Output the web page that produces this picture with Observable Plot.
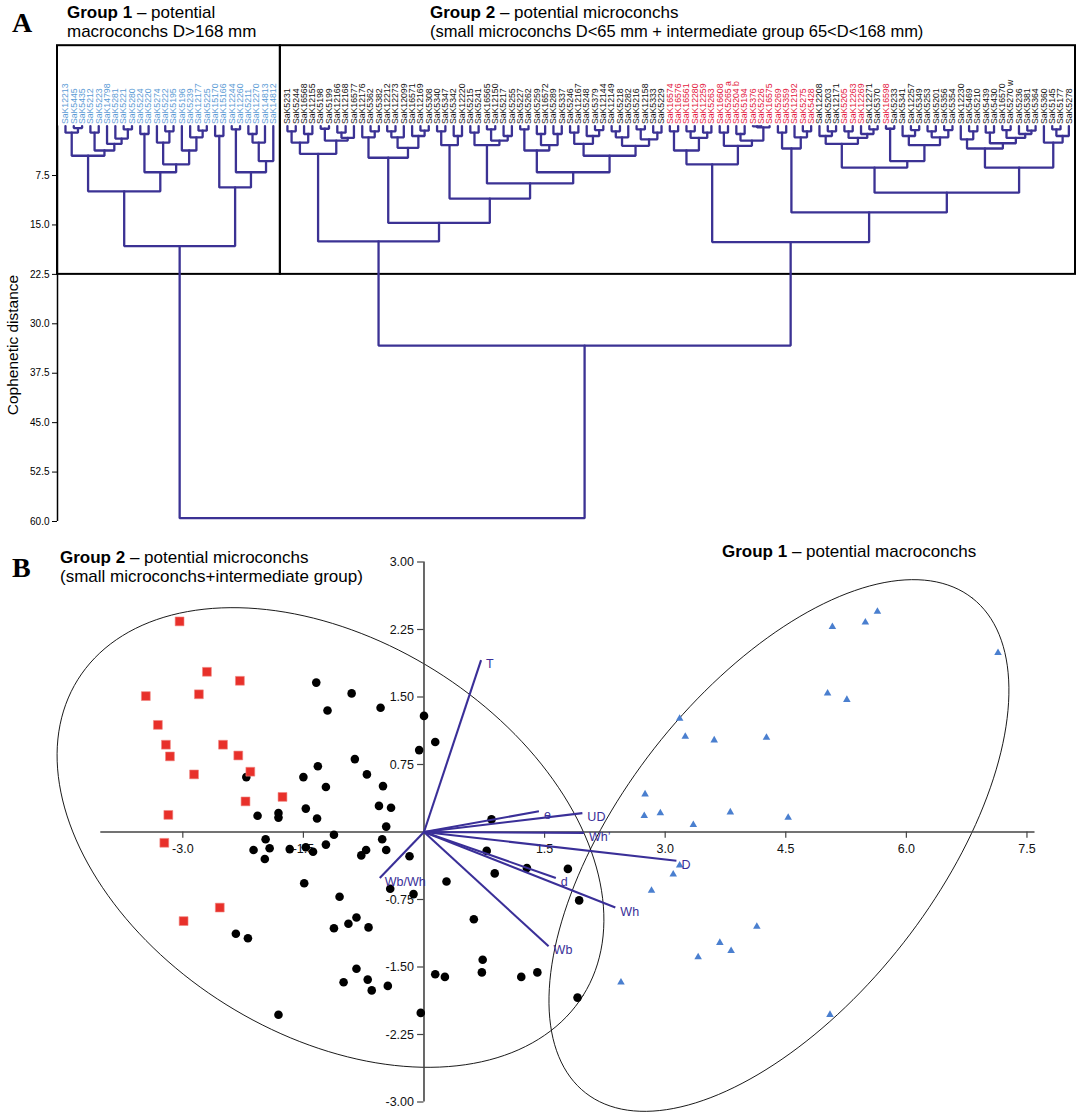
<!DOCTYPE html>
<html><head><meta charset="utf-8">
<script src="https://cdn.jsdelivr.net/npm/d3@7"></script>
<script src="https://cdn.jsdelivr.net/npm/@observablehq/plot@0.6"></script>
<style>
body{margin:0;background:#fff;}
#fig{position:relative;width:1081px;height:1119px;font-family:"Liberation Sans",Arial,sans-serif;color:#000;background:#fff;}
#fig svg{display:block;}
.ov{position:absolute;white-space:nowrap;font-size:17px;line-height:19px;}
.pl{position:absolute;font-family:"Liberation Serif","DejaVu Serif",serif;font-weight:bold;font-size:28px;line-height:28px;}
</style></head><body>
<div id="fig">
<div id="pa"></div><div id="pb"></div>
<div class="pl" style="left:12px;top:9px">A</div>
<div class="ov" style="left:67px;top:3px"><b>Group 1</b> – potential<br>macroconchs D&gt;168 mm</div>
<div class="ov" style="left:430px;top:3px"><b>Group 2</b> – potential microconchs<br><span style="font-size:16.5px">(small microconchs D&lt;65 mm + intermediate group 65&lt;D&lt;168 mm)</span></div>
<div class="ov" style="left:-87px;top:336px;width:200px;text-align:center;transform:rotate(-90deg);font-size:15.5px;line-height:18px">Cophenetic distance</div>
<div class="pl" style="left:12px;top:554px">B</div>
<div class="ov" style="left:60px;top:548px"><b>Group 2</b> – potential microconchs<br>(small microconchs+intermediate group)</div>
<div class="ov" style="left:722px;top:542px"><b>Group 1</b> – potential macroconchs</div>
</div>
<script>
// ---------- Panel A data ----------
const g1Labels = ["SaK12213","SaK5445","SaK5435","SaK5212","SaK5223","SaK14798","SaK5281","SaK5221","SaK5280","SaK5224","SaK5220","SaK5274","SaK5222","SaK5195","SaK5196","SaK5239","SaK12177","SaK5225","SaK15170","SaK15166","SaK12244","SaK12260","SaK5211","SaK12270","SaK14813","SaK14812"];
const g2Labels = ["SaK5231","SaK5244","SaK16568","SaK12155","SaK5198","SaK5199","SaK12166","SaK12168","SaK16577","SaK12176","SaK5362","SaK5382","SaK12212","SaK12273","SaK12099","SaK16571","SaK12169","SaK5308","SaK5340","SaK5347","SaK5342","SaK12220","SaK5215","SaK5241","SaK16565","SaK12150","SaK5217","SaK5255","SaK5227","SaK5262","SaK5259","SaK16572","SaK5289","SaK5337","SaK5246","SaK12167","SaK5248","SaK5379","SaK12144","SaK12149","SaK5218","SaK5282","SaK5216","SaK12158","SaK5333","SaK5229",
"SaK16574","SaK16576","SaK16561","SaK12280","SaK12259","SaK5263","SaK16608","SaK5265 a","SaK5204 b","SaK5194","SaK5376","SaK5226","SaK16575","SaK5269","SaK5359","SaK12192","SaK5275","SaK5428",
"SaK12208","SaK5203","SaK12171","SaK5205","SaK12263","SaK12269","SaK12271","SaK5370","SaK16598",
"SaK5233","SaK5341","SaK12257","SaK5349","SaK5253","SaK5201","SaK5356","SaK5354","SaK12230","SaK5469","SaK5210","SaK5439","SaK5430","SaK16570","SaK5270 w","SaK5236","SaK5381","SaK5364","SaK5360","SaK5145","SaK5177","SaK5278"];
const g2RedLabels = ["SaK16574","SaK16576","SaK16561","SaK12280","SaK12259","SaK5263","SaK16608","SaK5265 a","SaK5204 b","SaK5194","SaK5376","SaK5226","SaK16575","SaK5269","SaK5359","SaK12192","SaK5275","SaK5428","SaK5205","SaK12263","SaK12269","SaK16598"];
// node = [height, left, right]; leaf = index into the group's label list
const g1Tree = [18.2,
  [9.9,
    [4.5, [1.0, 0, [0.3, 1, 2]], [3.7, [1.0, 3, 4], [2.7, 5, [1.9, 6, [0.5, 7, 8]]]]],
    [7.0, [1.2, 9, 10], [5.8, [2.5, 11, [0.8, 12, 13]], [3.7, 14, [1.7, 15, [0.7, 16, 17]]]]]],
  [9.3, [1.5, 18, 19], [7.0, [0.5, 20, 21], [5.3, [2.5, [1.2, 22, 23], 24], 25]]]];
const g2Tree = [33.3,
  [17.5,
    [4.2, [2.5, [0.8, 0, 1], [1.2, 2, 3]], [2.2, [0.4, 4, 5], [1.8, [1.0, 6, 7], 8]]],
    [14.7,
      [4.8, [1.7, 9, [0.8, 10, 11]], [3.3, [1.7, [0.8, 12, 13], 14], [1.5, 15, [0.7, 16, 17]]]],
      [11.0,
        [2.9, [0.8, 18, 19], [1.5, 20, 21]],
        [8.7,
          [2.9, [1.0, 22, 23], [2.2, [0.5, 24, 25], [1.5, 26, 27]]],
          [7.0,
            [3.7, [0.5, 28, 29], [2.9, [1.2, 30, 31], [1.2, 32, 33]]],
            [4.5, [2.7, [1.0, 34, 35], [1.5, 36, [0.6, 37, 38]]],
                  [3.0, [1.7, [0.8, 39, 40], 41], [2.0, [0.5, 42, 43], [1.0, 44, 45]]]]]]]]],
  [17.6,
    [5.8, [3.7, [0.8, 46, 47], [1.8, [0.8, 48, 49], [1.0, 50, 51]]],
          [3.0, [1.0, 52, 53], [2.2, [1.2, 54, 55], [0.2, [0.05, 56, 57], 58]]]],
    [13.1,
      [3.4, [1.0, 59, 60], [1.7, 61, [0.8, 62, 63]]],
      [10.1,
        [6.3, [2.7, [1.5, 64, [0.8, 65, 66]], [1.8, [0.8, 67, 68], [1.2, 69, [0.5, 70, 71]]]],
              [5.3, [0.4, 72, 73], [2.9, [1.5, 74, [0.6, 75, 76]], [1.7, [0.8, 77, 78], [0.6, 79, 80]]]]],
        [6.3, [3.4, [2.0, 81, [0.8, 82, 83]], [2.6, [1.0, 84, 85], [1.8, [0.6, 86, 87], [1.2, 88, [0.7, 89, 90]]]]],
              [2.5, 91, [1.5, [0.5, 92, 93], 94]]]]]]];
const rootHeight = 59.5;
const groupCut = 22.5;
const distTicks = [7.5, 15, 22.5, 30, 37.5, 45, 52.5, 60];

// ---------- Panel B data ----------
const microRed = [[-3.04,2.34],[-2.70,1.78],[-2.29,1.68],[-3.46,1.51],[-2.80,1.53],[-3.31,1.19],[-3.21,0.97],[-3.16,0.84],[-2.50,0.97],[-2.31,0.85],[-2.16,0.67],[-2.86,0.64],[-2.22,0.34],[-1.76,0.39],[-3.18,0.19],[-3.23,-0.12],[-2.54,-0.84],[-2.99,-0.99]];
const microBlack = [[-1.34,1.66],[-0.90,1.54],[-1.20,1.35],[-0.54,1.38],[0.00,1.29],[0.14,1.00],[-0.06,0.91],[-0.86,0.81],[-1.32,0.73],[-0.71,0.64],[-2.21,0.61],[-1.50,0.61],[-1.22,0.50],[-0.51,0.51],[-0.56,0.29],[-0.41,0.27],[-1.47,0.26],[-2.07,0.18],[-1.81,0.21],[-1.81,0.16],[-1.33,0.15],[-0.47,0.06],[-1.12,-0.03],[-1.97,-0.08],[-0.52,-0.08],[-2.12,-0.20],[-1.92,-0.18],[-1.67,-0.19],[-1.47,-0.17],[-1.38,-0.22],[-1.22,-0.14],[-0.72,-0.20],[-0.78,-0.26],[-0.47,-0.20],[-1.98,-0.30],[-0.18,-0.27],[-1.49,-0.57],[-0.42,-0.63],[0.28,-0.55],[-1.05,-0.72],[-0.13,-0.69],[-0.84,-0.95],[-0.94,-1.02],[-1.12,-1.07],[-0.69,-1.06],[-2.34,-1.13],[-2.19,-1.18],[-0.84,-1.52],[-1.00,-1.67],[-0.70,-1.64],[-0.65,-1.76],[-0.45,-1.71],[0.14,-1.58],[0.26,-1.61],[-0.04,-2.01],[-1.81,-2.03],
  [0.84,0.14],[0.78,-0.21],[1.28,-0.40],[0.88,-0.46],[1.79,-0.41],[1.93,-0.76],[0.62,-0.97],[0.73,-1.42],[0.72,-1.56],[1.21,-1.61],[1.41,-1.56],[1.91,-1.84]];
const macro = [[5.64,2.45],[5.08,2.28],[5.49,2.33],[7.14,1.99],[5.02,1.54],[5.26,1.47],[3.18,1.26],[3.25,1.06],[3.61,1.02],[4.26,1.05],[2.75,0.42],[2.74,0.18],[2.94,0.21],[3.81,0.22],[4.53,0.16],[3.35,0.08],[3.18,-0.37],[3.10,-0.47],[2.83,-0.65],[4.14,-1.05],[3.68,-1.23],[3.82,-1.32],[3.41,-1.39],[2.45,-1.67],[5.05,-2.03]];
const vectorNames = ["T","e","UD","Wh’","D","d","Wh","Wb","Wb/Wh"];
const vectorX = [0.71,1.43,1.97,1.99,3.14,1.64,2.38,1.55,-0.55];
const vectorY = [1.91,0.23,0.21,-0.01,-0.32,-0.51,-0.84,-1.27,-0.51];
// ellipse: centre and two conjugate semi-axis vectors (data units)
const ellipses = [
  {g: "micro", cx: -1.163, cy: -0.061, ax: 3.143, ay: -1.754, bx: -1.299, by: -1.856},
  {g: "macro", cx: 4.415, cy: -0.15, ax: 2.405, ay: 2.749, bx: 1.549, by: -1.081}];
const xTicksB = [-3.0, -1.5, 1.5, 3.0, 4.5, 6.0, 7.5];
const yTicksB = [3.0, 2.25, 1.5, 0.75, -0.75, -1.5, -2.25, -3.0];

// ---------- Panel A layout ----------
const font = "Liberation Sans, Arial, sans-serif";
const g2Offset = g1Labels.length + 0.7;
const dendro = [], leaves = [];
let nid = 0;
function lay(node, offset, labels, colorOf) {
  if (typeof node === "number") {
    const x = offset + node;
    leaves.push({x, label: labels[node], color: colorOf(labels[node])});
    return {x, h: 0};
  }
  const [h, l, r] = node;
  const a = lay(l, offset, labels, colorOf), b = lay(r, offset, labels, colorOf);
  const id = nid++;
  dendro.push({id, x: a.x, y: a.h}, {id, x: a.x, y: h}, {id, x: b.x, y: h}, {id, x: b.x, y: b.h});
  return {x: (a.x + b.x) / 2, h};
}
const r1 = lay(g1Tree, 0, g1Labels, () => "#5b9bd5");
const r2 = lay(g2Tree, g2Offset, g2Labels, s => g2RedLabels.includes(s) ? "#e3173d" : "#111");
{ const id = nid++; dendro.push({id, x: r1.x, y: r1.h}, {id, x: r1.x, y: rootHeight}, {id, x: r2.x, y: rootHeight}, {id, x: r2.x, y: r2.h}); }

const xMinA = -0.96, xMaxA = g2Offset + g2Labels.length - 1 + 0.8;
const boxTop = -12.2;
const boxMid = (g1Labels.length - 1 + g2Offset) / 2;
const boxes = [{x1: xMinA, x2: boxMid}, {x1: boxMid, x2: xMaxA}];

const plotA = Plot.plot({
  width: 1081, height: 540,
  marginLeft: 57, marginRight: 6, marginTop: 125.6, marginBottom: 19,
  style: {fontFamily: font, background: "white"},
  x: {domain: [xMinA, xMaxA], axis: null},
  y: {domain: [0, 60], range: [125.6, 521]},
  marks: [
    Plot.rect(boxes, {x1: "x1", x2: "x2", y1: boxTop, y2: groupCut, fill: "none", stroke: "#000", strokeWidth: 2}),
    Plot.ruleX([xMinA], {y1: 0, y2: 60, stroke: "#000", strokeWidth: 1.5}),
    Plot.axisY(distTicks, {anchor: "left", tickSize: 5, tickPadding: 3, tickFormat: d => d.toFixed(1), fontSize: 10, label: null}),
    Plot.line(dendro, {x: "x", y: "y", z: "id", stroke: "#3b3294", strokeWidth: 2.3, strokeLinejoin: "miter"}),
    Plot.text(leaves, {x: "x", y: 0, text: "label", fill: "color", rotate: -90, textAnchor: "start", dy: -2, fontSize: 8.7})
  ]
});
document.getElementById("pa").appendChild(plotA);

// ---------- Panel B ----------
const ellPts = ellipses.flatMap(e => d3.range(0, 361, 2).map(deg => {
  const t = deg * Math.PI / 180;
  return {g: e.g, x: e.cx + e.ax * Math.cos(t) + e.bx * Math.sin(t), y: e.cy + e.ay * Math.cos(t) + e.by * Math.sin(t)};
}));
const vectors = vectorNames.map((n, i) => ({name: n, x: vectorX[i], y: vectorY[i]}));
const vcol = "#3a2f98";
const xMinB = -4.02, xMaxB = 7.6;
const plotB = Plot.plot({
  width: 1081, height: 579,
  marginLeft: 100.3, marginRight: 46.5, marginTop: 21.5, marginBottom: 17.5,
  style: {fontFamily: font, background: "white"},
  x: {domain: [xMinB, xMaxB], axis: null},
  y: {domain: [-3, 3], axis: null},
  marks: [
    Plot.line(ellPts, {x: "x", y: "y", z: "g", stroke: "#000", strokeWidth: 0.9}),
    Plot.ruleY([0], {x1: xMinB, x2: xMaxB, stroke: "#444", strokeWidth: 1.6}),
    Plot.ruleX([0], {y1: -3, y2: 3, stroke: "#444", strokeWidth: 1.6}),
    Plot.ruleX(xTicksB, {x: d => d, y1: 0, y2: -0.07, stroke: "#444", strokeWidth: 1.2}),
    Plot.ruleY(yTicksB, {y: d => d, x1: 0, x2: -0.08, stroke: "#444", strokeWidth: 1.2}),
    Plot.text(xTicksB, {x: d => d, y: 0, dy: 17, text: d => d.toFixed(1), fontSize: 12.5, fill: "#111"}),
    Plot.text(yTicksB, {x: 0, y: d => d, dx: -10, textAnchor: "end", text: d => d.toFixed(2), fontSize: 12.5, fill: "#111"}),
    Plot.dot(microBlack, {x: d => d[0], y: d => d[1], r: 4.3, fill: "#000", stroke: "none"}),
    Plot.dot(microRed, {x: d => d[0], y: d => d[1], r: 5, symbol: "square", fill: "#e8302a", stroke: "#f08a84", strokeWidth: 0.6}),
    Plot.dot(macro, {x: d => d[0], y: d => d[1], r: 2.8, symbol: "triangle", fill: "#4a7fcf", stroke: "none"}),
    Plot.link(vectors, {x1: 0, y1: 0, x2: "x", y2: "y", stroke: vcol, strokeWidth: 2.1}),
    Plot.text(vectors, {x: "x", y: "y", text: "name", dx: 5, dy: 4, textAnchor: "start", fill: vcol, fontSize: 12.5})
  ]
});
document.getElementById("pb").appendChild(plotB);
</script>
</body></html>
